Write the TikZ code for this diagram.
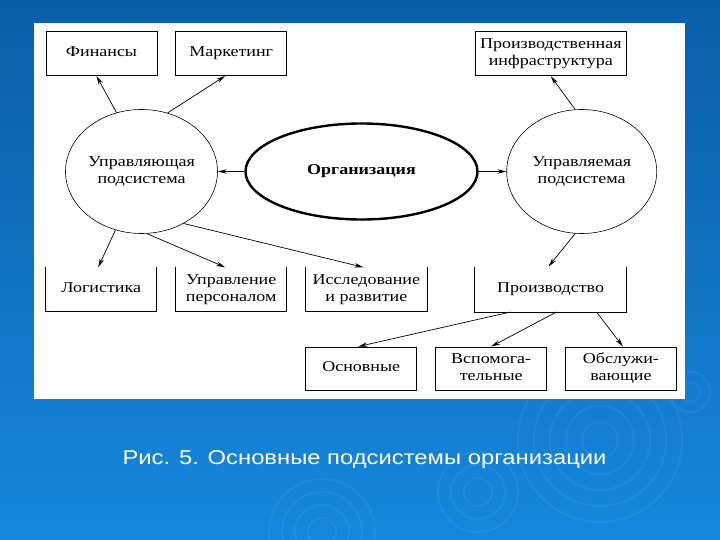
\documentclass[tikz,border=0pt]{standalone}
\usepackage{fontspec}
\setmainfont{Liberation Serif}
\newfontfamily\capfont{Liberation Sans}
\usetikzlibrary{shapes.geometric,arrows.meta}
\newcommand\T[1]{\scalebox{1.2}[1]{\begin{tabular}{@{}c@{}}#1\end{tabular}}}
\newcommand\Z[1]{\makebox[0pt]{\T{#1}}}
\definecolor{bgtop}{HTML}{0A5EA8}
\definecolor{bgbot}{HTML}{1688DD}
\tikzset{
  txt/.style={font=\fontsize{15}{17}\selectfont, text=black},
  box/.style={txt, draw, line width=0.9pt, minimum width=111pt, minimum height=44pt, inner sep=0pt},
  openbox/.style={txt, minimum width=111pt, minimum height=44pt, inner sep=0pt},
  sides/.style={line width=0.9pt},
  circ/.style={txt, ellipse, draw, line width=0.6pt, minimum width=152pt, minimum height=124pt, inner sep=0pt},
  arr/.style={line width=0.7pt, -{Stealth[length=9pt,width=4.5pt]}},
  ring/.style={white, opacity=0.045, line width=2.2pt}
}
\begin{document}
\begin{tikzpicture}[x=1pt,y=-1pt]
\useasboundingbox (0,0) rectangle (720,540);
\shade[top color=bgtop, bottom color=bgbot] (0,0) rectangle (720,540);
% faint background rings
\foreach \r in {18,34,50,66,82} \draw[ring] (600,440) circle (\r);
\foreach \r in {14,27,40} \draw[ring] (478,492) circle (\r);
\foreach \r in {14,27,40,53} \draw[ring] (322,532) circle (\r);
\foreach \r in {10,20} \draw[ring] (690,392) circle (\r);
% white panel
\fill[white] (34,23) rectangle (685,399);

% top boxes
\node[box] (fin) at (101.5,53.5) {\T{Финансы}};
\node[box] (mar) at (231.2,53.5) {\T{Маркетинг}};
\node[box, minimum width=151pt] (inf) at (550.8,53.8) {\T{Производственная\\инфраструктура}};

% ellipses
\node[circ] (upr) at (141.5,171.5) {\Z{Управляющая\\подсистема}};
\node[txt, ellipse, draw, line width=2.4pt, minimum width=232pt, minimum height=96pt, inner sep=0pt] (org) at (361.5,171.5) {\raisebox{-3pt}{\Z{\bfseries Организация}}};
\node[circ, minimum width=150pt] (uprm) at (581.7,171.5) {\Z{Управляемая\\подсистема}};

% middle boxes (open at the top)
\node[openbox] (log) at (101.2,289.5) {\T{Логистика}};
\node[openbox] (per) at (231.2,289.5) {\T{Управление\\персоналом}};
\node[openbox, minimum width=121pt] (isl) at (366.4,289.5) {\T{Исследование\\и развитие}};
\node[openbox, minimum width=151pt, minimum height=45pt] (pro) at (550.5,289.3) {\T{Производство}};
\foreach \n in {log,per,isl,pro}
  \draw[sides] (\n.north west) -- (\n.south west) -- (\n.south east) -- (\n.north east);

% bottom boxes
\node[box, minimum height=43pt] (osn) at (361.2,368.5) {\T{Основные}};
\node[box, minimum height=43pt] (vsp) at (491.2,368.5) {\T{Вспомога-\\тельные}};
\node[box, minimum height=43pt] (obs) at (620.9,368.5) {\T{Обслужи-\\вающие}};

% connectors
\draw[arr] (upr.113) -- ([xshift=-5pt]fin.south);
\draw[arr] (upr.66) -- ([xshift=-6pt]mar.south);
\draw[arr] (org.west) -- (upr.east);
\draw[arr] (org.east) -- (uprm.west);
\draw[arr] (uprm.96) -- (inf.south);
\draw[arr] (upr.246) -- ([xshift=-3pt]log.north);
\draw[arr] (upr.275) -- ([xshift=-6pt]per.north);
\draw[arr] (upr.309) -- ([xshift=-3pt]isl.north);
\draw[arr] (uprm.264) -- ([xshift=-2pt]pro.north);
\draw[arr] ([xshift=-40pt]pro.south) -- ([xshift=-3pt]osn.north);
\draw[arr] ([xshift=6pt]pro.south) -- (vsp.north);
\draw[arr] ([xshift=46pt]pro.south) -- ([xshift=2pt]obs.north);

% caption
\node[anchor=base, text=white, font=\capfont\fontsize{20}{24}\selectfont] (cap) at (364.5,464) {\scalebox{1.19}[1]{Рис. 5. Основные подсистемы организации}};
\end{tikzpicture}
\end{document}
